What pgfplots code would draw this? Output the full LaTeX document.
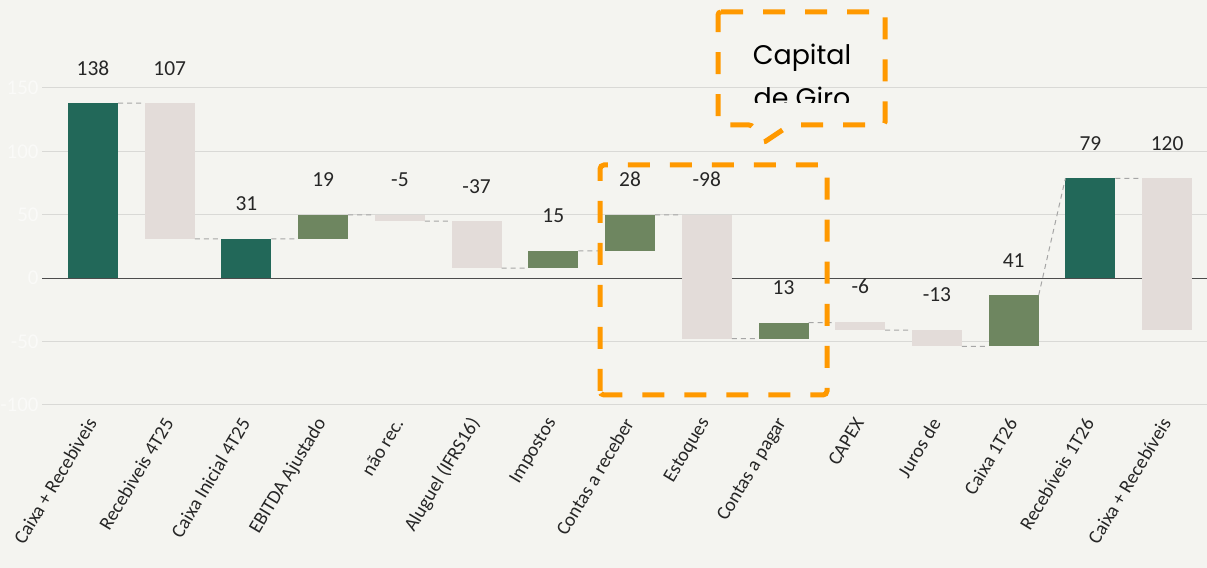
\documentclass[border=0pt]{standalone}
\usepackage{fontspec}
\setmainfont{Carlito}
\newfontfamily\poppins{Poppins}
\usepackage{pgfplots}
\pgfplotsset{compat=1.18}
\usepackage{pgfplotstable}

\definecolor{bg}{RGB}{244,244,240}
\definecolor{darkg}{RGB}{34,104,89}
\definecolor{oliveg}{RGB}{110,134,96}
\definecolor{lightb}{RGB}{227,220,217}
\definecolor{gridc}{RGB}{217,217,214}
\definecolor{orangeb}{RGB}{255,153,0}
\definecolor{faint}{RGB}{250,250,248}

% bars: x, bottom, top
\pgfplotstableread{
x    lo     hi
0    0      138
2    0      31
13   0      78.7
}\darkbars
\pgfplotstableread{
x    lo     hi
1    31     138
4    45     50
5    8      45
8    -47.6  50
10   -41    -34.4
11   -53.7  -40.5
14   -40.5  78.7
}\lightbars
\pgfplotstableread{
x    lo     hi
3    31     50
6    8      21.5
7    21.5   50
9    -47.6  -35
12   -53.7  -13.4
}\olivebars

\pgfplotstableread{
x    top    lab
0    138    138
1    138    107
2    31     31
3    50     19
4    50     -5
5    45     -37
6    21.5   15
7    50     28
8    50     -98
9    -35    13
10   -34.4  -6
11   -40.5  -13
12   -13.4  41
13   78.7   79
14   78.7   120
}\labels

\pgfplotstableread{
x       y
0.326   138
0.674   138
nan     nan
1.326   31
1.674   31
nan     nan
2.326   31
2.674   31
nan     nan
3.326   50
3.674   50
nan     nan
4.326   45
4.674   45
nan     nan
5.326   8
5.674   8
nan     nan
6.326   21.5
6.674   21.5
nan     nan
7.326   50
7.674   50
nan     nan
8.326   -47.6
8.674   -47.6
nan     nan
9.326   -35
9.674   -35
nan     nan
10.326  -41
10.674  -41
nan     nan
11.326  -53.7
11.674  -53.7
nan     nan
12.326  -13.4
12.674  78.7
nan     nan
13.326  78.7
13.674  78.7
}\conn

\pgfplotsset{
  wfbar/.style={draw=none, mark=none,
    error bars/.cd, y dir=both, y explicit, error mark=none,
    error bar style={line width=50bp, line cap=butt, draw=#1, solid}},
}

\begin{document}
\begin{tikzpicture}
\useasboundingbox (0,0) rectangle (1207bp,568bp);
\clip (0,0) rectangle (1207bp,568bp);
\fill[bg] (0,0) rectangle (1207bp,568bp);

\begin{axis}[
  at={(42bp,163bp)}, anchor=south west,
  scale only axis, width=1165bp, height=317bp,
  xmin=-0.665, xmax=14.52, ymin=-100, ymax=150,
  axis line style={draw=none},
  major tick length=0pt,
  xtick={0,...,14},
  xticklabels={Caixa + Recebiveis, Recebiveis 4T25, Caixa Inicial 4T25, EBITDA Ajustado, não rec., Aluguel (IFRS16), Impostos, Contas a receber, Estoques, Contas a pagar, CAPEX, Juros de, Caixa 1T26, Recebíveis 1T26, Caixa + Recebíveis},
  xticklabel style={yshift=-13bp, rotate=59, anchor=east, font=\fontsize{19.5}{19.5}\selectfont, text=black!85, inner sep=2bp},
  ytick={-100,-50,...,150},
  yticklabel style={text=faint, font=\fontsize{21}{21}\selectfont},
  /pgf/number format/assume math mode=true,
  ymajorgrids, grid style={draw=gridc, line width=1bp},
  extra y ticks={0}, extra y tick labels={},
  extra y tick style={grid style={draw=black!70, line width=1bp}},
]
\addplot[wfbar=darkg] table[x=x, y expr={(\thisrow{lo}+\thisrow{hi})/2}, y error expr={(\thisrow{hi}-\thisrow{lo})/2}] {\darkbars};
\addplot[wfbar=lightb] table[x=x, y expr={(\thisrow{lo}+\thisrow{hi})/2}, y error expr={(\thisrow{hi}-\thisrow{lo})/2}] {\lightbars};
\addplot[wfbar=oliveg] table[x=x, y expr={(\thisrow{lo}+\thisrow{hi})/2}, y error expr={(\thisrow{hi}-\thisrow{lo})/2}] {\olivebars};
\end{axis}

\begin{axis}[
  at={(42bp,163bp)}, anchor=south west,
  scale only axis, width=1165bp, height=317bp,
  xmin=-0.665, xmax=14.52, ymin=-100, ymax=150,
  hide axis, clip=false,
]
\addplot[draw=black!35, line width=1bp, dash pattern=on 5bp off 4bp, unbounded coords=jump] table[x=x, y=y] {\conn};
\addplot[draw=none, mark=none, nodes near coords, point meta=explicit symbolic,
  nodes near coords style={anchor=base, yshift=28bp, font=\fontsize{21.5}{21.5}\selectfont, text=black!85}]
  table[x=x, y=top, meta=lab] {\labels};
\end{axis}

% Capital de Giro highlight
\draw[orangeb, line width=5bp, dash pattern=on 22bp off 20bp, rounded corners=4bp]
  (600bp,173bp) rectangle (827bp,403bp);
\draw[orangeb, line width=5bp, dash pattern=on 22bp off 20bp, rounded corners=3bp]
  (718bp,556bp) -- (885bp,556bp) -- (885bp,443bp) -- (790bp,443bp) -- (763bp,425bp) -- (752bp,443bp) -- (718bp,443bp) -- cycle;
\node[font=\poppins\fontsize{27}{27}\selectfont, anchor=base] at (802bp,503bp) {Capital};
\begin{scope}
\clip (700bp,465bp) rectangle (900bp,568bp);
\node[font=\poppins\fontsize{27}{27}\selectfont, anchor=base] at (802bp,460bp) {de Giro};
\end{scope}
\end{tikzpicture}
\end{document}
